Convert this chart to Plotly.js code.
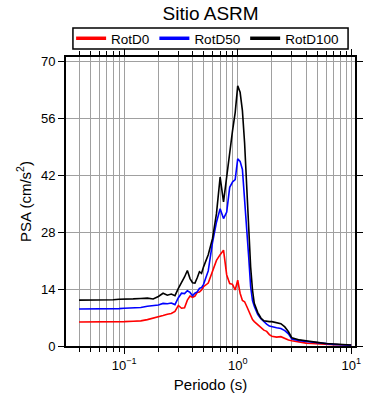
<!DOCTYPE html>
<html>
<head>
<meta charset="utf-8">
<script src="https://cdn.plot.ly/plotly-3.0.1.min.js"></script>
<style>html,body{margin:0;padding:0;background:#fff;}#chart{width:390px;height:400px;}</style>
</head>
<body>
<div id="chart"></div>
<script>
const periods = [0.04,0.05,0.06,0.07,0.08,0.09,0.1,0.12,0.14,0.16,0.18,0.2,0.22,0.24,0.26,0.28,0.30,0.32,0.34,0.36,0.38,0.40,0.42,0.44,0.46,0.48,0.50,0.55,0.60,0.65,0.70,0.75,0.80,0.85,0.90,0.95,1.00,1.05,1.10,1.15,1.20,1.25,1.30,1.35,1.40,1.50,1.60,1.70,1.80,1.90,2.0,2.2,2.4,2.6,2.8,3.0,3.5,4.0,4.5,5.0,6.0,7.0,8.0,9.0,10.0];

const rotD0 = [5.9,5.9,5.9,5.9,6.0,6.0,6.0,6.1,6.2,6.5,6.8,7.1,7.5,7.8,8.0,8.5,10.0,9.3,9.4,11.3,12.3,12.0,12.3,13.2,13.3,13.8,14.6,15.5,18.5,21.1,22.5,23.6,17.5,15.4,15.2,13.8,16.2,13.0,11.2,10.9,9.8,8.5,7.2,6.5,6.0,5.3,4.5,3.9,3.6,2.8,2.4,2.2,2.3,1.8,1.5,1.3,0.9,0.7,0.6,0.5,0.45,0.35,0.3,0.25,0.2];

const rotD50 = [9.1,9.1,9.1,9.2,9.2,9.2,9.3,9.4,9.5,9.8,9.9,10.1,10.5,10.4,10.6,10.2,11.9,13.0,12.9,13.6,13.2,12.4,13.0,13.3,14.2,14.4,15.2,18.5,25.5,30.5,33.8,31.4,33.0,39.1,40.4,41.0,46.1,45.5,43.5,36.7,29.3,21.9,14.6,11.2,9.8,7.8,6.7,5.9,5.4,4.9,4.7,4.5,4.3,3.8,3.0,1.7,1.3,1.1,0.9,0.8,0.55,0.4,0.3,0.25,0.2];

const rotD100 = [11.3,11.3,11.3,11.4,11.4,11.5,11.5,11.6,11.7,11.8,11.6,12.2,13.0,12.5,12.8,12.4,14.2,15.5,17.0,18.6,16.6,15.6,15.5,16.8,18.3,17.9,19.5,22.5,26.5,32.6,41.6,35.5,42.0,48.0,53.0,57.5,64.1,62.5,58.0,50.0,40.0,27.0,19.5,13.8,10.5,8.3,6.9,6.2,6.0,6.0,6.0,5.7,5.5,4.7,3.5,2.0,1.5,1.3,1.0,0.9,0.6,0.45,0.35,0.3,0.25];

const seriesNames = ['RotD0','RotD50','RotD100'];
const seriesColors = ['#ff0000','#0000ff','#000000'];
const seriesValues = [rotD0, rotD50, rotD100];

const xMajorVals = [0.1, 1, 10];
const xMajorText = ['10<sup>\u22121</sup>', '10<sup>0</sup>', '10<sup>1</sup>'];
const xMinorVals = [0.04,0.05,0.06,0.07,0.08,0.09,0.2,0.3,0.4,0.5,0.6,0.7,0.8,0.9,2,3,4,5,6,7,8,9];
const yTickVals = [0,14,28,42,56,70];

const traces = [];
seriesValues.forEach((vals, i) => {
  traces.push({
    x: periods, y: vals, type: 'scatter', mode: 'lines',
    line: {color: seriesColors[i], width: 1.6},
    showlegend: false, hoverinfo: 'skip'
  });
});
seriesValues.forEach((vals, i) => {
  traces.push({
    x: [null], y: [null], type: 'scatter', mode: 'lines',
    name: seriesNames[i],
    line: {color: seriesColors[i], width: 3.5},
    showlegend: true
  });
});

const font = 'Liberation Sans, Arial, Helvetica, sans-serif';

const layout = {
  width: 390, height: 400,
  margin: {l: 66, r: 35, t: 57, b: 54},
  paper_bgcolor: '#fff', plot_bgcolor: '#fff',
  font: {family: font, color: '#000', size: 13},
  title: {text: 'Sitio ASRM', font: {size: 19, family: font, color: '#000'},
          x: 0.54, xanchor: 'center', y: 0.966, yanchor: 'middle', yref: 'container'},
  showlegend: true,
  legend: {orientation: 'h', x: 0.49, xanchor: 'center', y: 1.064, yanchor: 'middle',
           borderwidth: 0, bgcolor: 'rgba(0,0,0,0)',
           font: {size: 13.5, family: font, color: '#000'},
           itemwidth: 30, tracegroupgap: 0},
  shapes: [{type: 'rect', xref: 'paper', yref: 'paper', x0: 0.024, x1: 0.976, y0: 1.0277, y1: 1.100,
            line: {color: '#000', width: 1.5}, fillcolor: 'rgba(0,0,0,0)', layer: 'above'}],
  xaxis: {
    type: 'log', range: [Math.log10(0.0307), Math.log10(10.8)],
    tickmode: 'array', tickvals: xMajorVals, ticktext: xMajorText,
    ticks: 'outside', ticklen: 6, tickwidth: 1, tickcolor: '#000',
    showgrid: true, gridcolor: '#a0a0a0', gridwidth: 1,
    minor: {tickmode: 'array', tickvals: xMinorVals, ticks: 'outside', ticklen: 4, tickcolor: '#000',
            showgrid: true, gridcolor: '#a0a0a0', gridwidth: 1},
    showline: true, linecolor: '#000', linewidth: 2, mirror: 'ticks',
    zeroline: false,
    tickfont: {size: 13, family: font},
    title: {text: 'Periodo (s)', font: {size: 15, family: font}, standoff: 8}
  },
  yaxis: {
    range: [0, 71.2],
    tickmode: 'array', tickvals: yTickVals,
    ticks: 'outside', ticklen: 6, tickwidth: 1, tickcolor: '#000',
    showgrid: true, gridcolor: '#a0a0a0', gridwidth: 1,
    showline: true, linecolor: '#000', linewidth: 2, mirror: 'ticks',
    zeroline: false,
    tickfont: {size: 13, family: font},
    title: {text: 'PSA (cm/s<sup>2</sup>)', font: {size: 15, family: font}, standoff: 6}
  }
};

Plotly.newPlot('chart', traces, layout, {staticPlot: true, displayModeBar: false});
</script>
</body>
</html>
